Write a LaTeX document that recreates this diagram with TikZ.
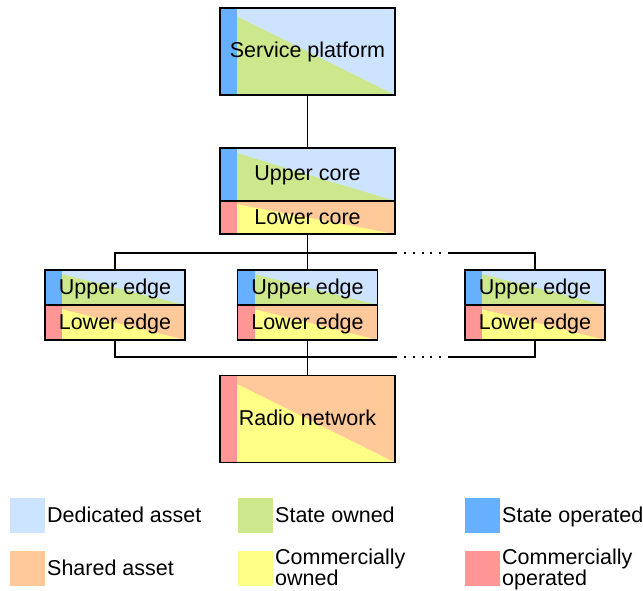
\documentclass[tikz,border=0pt]{standalone}
\usepackage{fontspec}
\setmainfont{Liberation Sans}
\definecolor{dedicated}{HTML}{CCE4FF}
\definecolor{shared}{HTML}{FFC999}
\definecolor{stateown}{HTML}{CDE88C}
\definecolor{commown}{HTML}{FFFF88}
\definecolor{stateop}{HTML}{66B0FF}
\definecolor{commop}{HTML}{FF9696}
\tikzset{
  % a layer box: base colour, lower-left triangle, operator strip on the left
  cell/.style n args={3}{
    draw, line width=1.8pt, fill=#1, inner sep=0pt,
    font=\fontsize{21.5}{21.5}\selectfont, text height=15pt, text depth=2pt,
    path picture={
      \fill[#2] (path picture bounding box.north west)
        -- (path picture bounding box.south east)
        -- (path picture bounding box.south west) -- cycle;
      \fill[#3] (path picture bounding box.north west)
        rectangle ([xshift=17pt]path picture bounding box.south west);
    }},
  big/.style={minimum width=175pt},
  small/.style={minimum width=140pt, minimum height=35pt},
  wire/.style={line width=1.8pt},
  gapdots/.style={line width=2pt, dash pattern=on 2pt off 6.75pt},
  swatch/.style={minimum width=35pt, minimum height=35pt, inner sep=0pt},
  keytext/.style={anchor=base west, inner sep=0pt, font=\fontsize{21.5}{21}\selectfont},
}
\begin{document}
\begin{tikzpicture}[x=1pt, y=-1pt]
\useasboundingbox (0,0) rectangle (643,591);

% core stack
\node[cell={dedicated}{stateown}{stateop}, big, minimum height=87pt] (sp) at (307.5,51.5) {Service platform};
\node[cell={dedicated}{stateown}{stateop}, big, minimum height=53pt] (uc) at (307.5,174.5) {Upper core};
\node[cell={shared}{commown}{commop}, big, minimum height=33pt] (lc) at (307.5,217.5) {Lower core};

% edge sites
\node[cell={dedicated}{stateown}{stateop}, small] (ue1) at (115,287.5) {Upper edge};
\node[cell={shared}{commown}{commop}, small] (le1) at (115,322.5) {Lower edge};
\node[cell={dedicated}{stateown}{stateop}, small] (ue2) at (307.5,287.5) {Upper edge};
\node[cell={shared}{commown}{commop}, small] (le2) at (307.5,322.5) {Lower edge};
\node[cell={dedicated}{stateown}{stateop}, small] (ue3) at (535,287.5) {Upper edge};
\node[cell={shared}{commown}{commop}, small] (le3) at (535,322.5) {Lower edge};

% access
\node[cell={shared}{commown}{commop}, big, minimum height=87pt] (rn) at (307.5,419) {Radio network};

% buses
\coordinate (ta) at (397,253);
\coordinate (tb) at (448,253);
\coordinate (ba) at (397,357);
\coordinate (bb) at (448,357);

\draw[wire] (sp.south) -- (uc.north);
\draw[wire] (lc.south) -- (ue2.north);
\draw[wire] (ue1.north) |- (ta);
\draw[wire] (tb) -| (ue3.north);
\draw[gapdots] ([xshift=7pt]ta) -- ([xshift=-6pt]tb);
\draw[wire] (le2.south) -- (rn.north);
\draw[wire] (le1.south) |- (ba);
\draw[wire] (bb) -| (le3.south);
\draw[gapdots] ([xshift=7pt]ba) -- ([xshift=-6pt]bb);

% legend
\node[swatch, fill=dedicated] (k1) at (27.5,515.5) {};
\node[swatch, fill=shared]    (k2) at (27.5,568.5) {};
\node[swatch, fill=stateown]  (k3) at (255,515.5) {};
\node[swatch, fill=commown]   (k4) at (255,568.5) {};
\node[swatch, fill=stateop]   (k5) at (482.5,515.5) {};
\node[swatch, fill=commop]    (k6) at (482.5,568.5) {};

\node[keytext] (t1) at (47,522.5) {Dedicated asset};
\node[keytext] (t2) at (47,575) {Shared asset};
\node[keytext] (t3) at (275,522.5) {State owned};
\node[keytext] (t4) at (275,564) {\begin{tabular}[t]{@{}l@{}}Commercially\\owned\end{tabular}};
\node[keytext] (t5) at (502,522.5) {State operated};
\node[keytext] (t6) at (502,564) {\begin{tabular}[t]{@{}l@{}}Commercially\\operated\end{tabular}};
\end{tikzpicture}
\end{document}
